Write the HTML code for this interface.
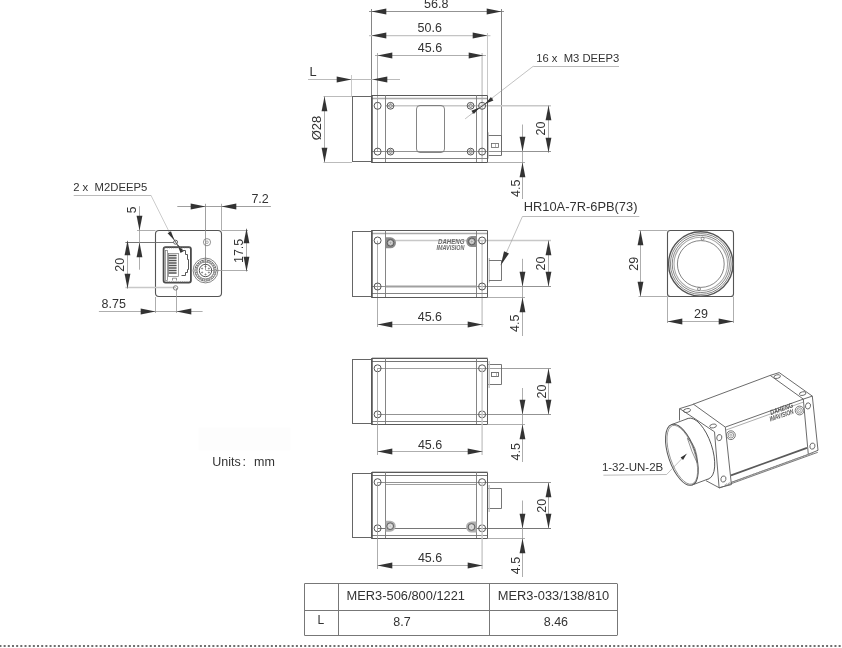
<!DOCTYPE html>
<html><head><meta charset="utf-8"><style>
html,body{margin:0;padding:0;background:#fff;width:842px;height:648px;overflow:hidden}
svg{display:block;filter:grayscale(1)}
text{font-family:"Liberation Sans",sans-serif}
</style></head><body>
<svg width="842" height="648" viewBox="0 0 842 648" font-family="Liberation Sans, sans-serif">
<rect width="842" height="648" fill="#fff"/>
<line x1="371.50" y1="9.00" x2="371.50" y2="95.50" stroke="#666" stroke-width="0.8" />
<line x1="377.50" y1="53.00" x2="377.50" y2="151.60" stroke="#999" stroke-width="0.8" />
<line x1="482.10" y1="53.00" x2="482.10" y2="162.00" stroke="#c8c8c8" stroke-width="1.4" />
<line x1="487.50" y1="33.00" x2="487.50" y2="95.00" stroke="#c8c8c8" stroke-width="1.0" />
<line x1="501.50" y1="9.00" x2="501.50" y2="155.00" stroke="#777" stroke-width="0.9" />
<line x1="385.70" y1="105.80" x2="551.00" y2="105.80" stroke="#c8c8c8" stroke-width="1.4" />
<line x1="372.00" y1="151.50" x2="551.00" y2="151.50" stroke="#777" stroke-width="0.8" />
<line x1="488.00" y1="162.50" x2="525.00" y2="162.50" stroke="#999" stroke-width="0.8" />
<rect x="352.50" y="96.50" width="19.00" height="65.00" rx="0" stroke="#666" stroke-width="1.0" fill="none"/>
<line x1="372.00" y1="98.50" x2="487.70" y2="98.50" stroke="#aaa" stroke-width="1.4" />
<line x1="372.00" y1="158.50" x2="487.70" y2="158.50" stroke="#777" stroke-width="0.9" />
<polyline points="371.50,95.50 487.50,95.50 487.50,162.50 371.50,162.50" stroke="#5a5a5a" stroke-width="1.0" fill="none" stroke-linejoin="miter"/>
<line x1="372.00" y1="95.00" x2="372.00" y2="163.00" stroke="#555" stroke-width="1.5" />
<line x1="385.50" y1="95.00" x2="385.50" y2="162.00" stroke="#777" stroke-width="0.9" />
<line x1="476.50" y1="95.00" x2="476.50" y2="162.00" stroke="#777" stroke-width="0.9" />
<circle cx="377.60" cy="105.80" r="3.50" stroke="#555" stroke-width="1.0" fill="none"/>
<circle cx="377.60" cy="151.60" r="3.50" stroke="#555" stroke-width="1.0" fill="none"/>
<circle cx="482.10" cy="105.80" r="3.50" stroke="#555" stroke-width="1.0" fill="none"/>
<circle cx="482.10" cy="151.60" r="3.50" stroke="#555" stroke-width="1.0" fill="none"/>
<circle cx="390.50" cy="105.80" r="3.40" stroke="#555" stroke-width="1.0" fill="none"/>
<circle cx="390.50" cy="105.80" r="1.70" stroke="#777" stroke-width="0.7" fill="none"/>
<path d="M387.95,105.80 h1.53 M391.52,105.80 h1.53 M390.50,103.25 v1.53 M390.50,106.82 v1.53" stroke="#777" stroke-width="0.7"/>
<circle cx="390.50" cy="151.60" r="3.40" stroke="#555" stroke-width="1.0" fill="none"/>
<circle cx="390.50" cy="151.60" r="1.70" stroke="#777" stroke-width="0.7" fill="none"/>
<path d="M387.95,151.60 h1.53 M391.52,151.60 h1.53 M390.50,149.05 v1.53 M390.50,152.62 v1.53" stroke="#777" stroke-width="0.7"/>
<circle cx="470.60" cy="105.80" r="3.40" stroke="#555" stroke-width="1.0" fill="none"/>
<circle cx="470.60" cy="105.80" r="1.70" stroke="#777" stroke-width="0.7" fill="none"/>
<path d="M468.05,105.80 h1.53 M471.62,105.80 h1.53 M470.60,103.25 v1.53 M470.60,106.82 v1.53" stroke="#777" stroke-width="0.7"/>
<circle cx="470.60" cy="151.60" r="3.40" stroke="#555" stroke-width="1.0" fill="none"/>
<circle cx="470.60" cy="151.60" r="1.70" stroke="#777" stroke-width="0.7" fill="none"/>
<path d="M468.05,151.60 h1.53 M471.62,151.60 h1.53 M470.60,149.05 v1.53 M470.60,152.62 v1.53" stroke="#777" stroke-width="0.7"/>
<rect x="416.50" y="105.50" width="28.00" height="47.00" rx="3.5" stroke="#777" stroke-width="0.9" fill="none"/>
<polyline points="487.50,135.50 501.50,135.50 501.50,155.50 487.50,155.50" stroke="#666" stroke-width="0.9" fill="none" stroke-linejoin="miter"/>
<rect x="491.50" y="143.50" width="7.00" height="4.00" rx="0" stroke="#666" stroke-width="0.8" fill="none"/>
<line x1="495.50" y1="143.50" x2="495.50" y2="147.60" stroke="#888" stroke-width="0.6" />
<line x1="488.50" y1="132.30" x2="488.50" y2="158.70" stroke="#bbb" stroke-width="0.8" />
<line x1="369.00" y1="11.50" x2="504.00" y2="11.50" stroke="#777" stroke-width="0.8" />
<polygon points="371.50,11.50 386.30,8.60 386.30,14.40" fill="#333"/>
<polygon points="501.50,11.50 486.70,14.40 486.70,8.60" fill="#333"/>
<line x1="369.00" y1="35.60" x2="490.40" y2="35.60" stroke="#c4c4c4" stroke-width="1.4" />
<polygon points="371.50,35.50 386.30,32.60 386.30,38.40" fill="#333"/>
<polygon points="487.50,35.50 472.70,38.40 472.70,32.60" fill="#333"/>
<line x1="375.00" y1="55.50" x2="486.00" y2="55.50" stroke="#999" stroke-width="0.8" />
<polygon points="377.50,55.50 392.30,52.60 392.30,58.40" fill="#333"/>
<polygon points="483.50,55.50 468.70,58.40 468.70,52.60" fill="#333"/>
<text x="424.10" y="8.10" font-size="12.5" fill="#333" text-anchor="start" >56.8</text>
<text x="417.60" y="32.10" font-size="12.5" fill="#333" text-anchor="start" >50.6</text>
<text x="417.80" y="51.90" font-size="12.5" fill="#333" text-anchor="start" >45.6</text>
<line x1="308.00" y1="79.50" x2="400.00" y2="79.50" stroke="#aaa" stroke-width="0.8" />
<polygon points="351.50,79.50 336.70,82.40 336.70,76.60" fill="#333"/>
<polygon points="372.50,79.50 387.30,76.60 387.30,82.40" fill="#333"/>
<line x1="351.50" y1="75.00" x2="351.50" y2="96.00" stroke="#bbb" stroke-width="0.8" />
<text x="309.50" y="76.00" font-size="12.8" fill="#333" text-anchor="start" >L</text>
<line x1="323.50" y1="96.50" x2="352.00" y2="96.50" stroke="#aaa" stroke-width="0.8" />
<line x1="323.50" y1="162.50" x2="352.00" y2="162.50" stroke="#aaa" stroke-width="0.8" />
<line x1="324.50" y1="96.30" x2="324.50" y2="162.00" stroke="#999" stroke-width="0.8" />
<polygon points="324.50,96.50 327.40,111.30 321.60,111.30" fill="#333"/>
<polygon points="324.50,162.50 321.60,147.70 327.40,147.70" fill="#333"/>
<text transform="translate(321.30,128.00) rotate(-90)" x="0" y="0" font-size="13" fill="#333" text-anchor="middle">Ø28</text>
<line x1="548.50" y1="105.50" x2="548.50" y2="152.80" stroke="#999" stroke-width="0.8" />
<polygon points="548.50,105.50 551.40,120.30 545.60,120.30" fill="#333"/>
<polygon points="548.50,152.50 545.60,137.70 551.40,137.70" fill="#333"/>
<text transform="translate(545.30,128.50) rotate(-90)" x="0" y="0" font-size="12.5" fill="#333" text-anchor="middle">20</text>
<line x1="522.50" y1="124.50" x2="522.50" y2="199.00" stroke="#999" stroke-width="0.8" />
<polygon points="522.50,151.50 519.60,136.70 525.40,136.70" fill="#333"/>
<polygon points="522.50,162.50 525.40,177.30 519.60,177.30" fill="#333"/>
<text transform="translate(519.50,188.20) rotate(-90)" x="0" y="0" font-size="12.5" fill="#333" text-anchor="middle">4.5</text>
<line x1="465.10" y1="118.90" x2="533.30" y2="66.20" stroke="#999" stroke-width="0.6" />
<line x1="533.30" y1="66.50" x2="619.00" y2="66.50" stroke="#aaa" stroke-width="0.8" />
<line x1="472.30" y1="113.20" x2="492.50" y2="98.50" stroke="#444" stroke-width="0.9" />
<polygon points="479.50,107.40 473.87,114.10 471.39,110.71" fill="#333"/>
<polygon points="485.30,103.80 490.93,97.10 493.41,100.49" fill="#333"/>
<text x="536.20" y="62.00" font-size="10.5" fill="#333" text-anchor="start" textLength="83.20" lengthAdjust="spacingAndGlyphs" >16 x&#160; M3 DEEP3</text>
<line x1="385.70" y1="240.50" x2="551.00" y2="240.50" stroke="#c8c8c8" stroke-width="1.4" />
<line x1="372.00" y1="286.50" x2="551.00" y2="286.50" stroke="#777" stroke-width="0.8" />
<line x1="488.00" y1="297.50" x2="525.00" y2="297.50" stroke="#999" stroke-width="0.8" />
<line x1="377.50" y1="240.70" x2="377.50" y2="327.00" stroke="#999" stroke-width="0.8" />
<line x1="482.10" y1="240.70" x2="482.10" y2="327.00" stroke="#c8c8c8" stroke-width="1.4" />
<rect x="352.50" y="231.50" width="19.00" height="65.00" rx="0" stroke="#666" stroke-width="1.0" fill="none"/>
<line x1="372.00" y1="233.50" x2="487.70" y2="233.50" stroke="#aaa" stroke-width="1.4" />
<line x1="372.00" y1="293.50" x2="487.70" y2="293.50" stroke="#777" stroke-width="0.9" />
<polyline points="371.50,230.50 487.50,230.50 487.50,297.50 371.50,297.50" stroke="#5a5a5a" stroke-width="1.0" fill="none" stroke-linejoin="miter"/>
<line x1="372.00" y1="230.00" x2="372.00" y2="298.00" stroke="#555" stroke-width="1.5" />
<line x1="385.50" y1="230.00" x2="385.50" y2="297.00" stroke="#777" stroke-width="0.9" />
<line x1="476.50" y1="230.00" x2="476.50" y2="297.00" stroke="#777" stroke-width="0.9" />
<circle cx="377.60" cy="240.50" r="3.50" stroke="#555" stroke-width="1.0" fill="none"/>
<circle cx="377.60" cy="286.50" r="3.50" stroke="#555" stroke-width="1.0" fill="none"/>
<circle cx="482.10" cy="240.50" r="3.50" stroke="#555" stroke-width="1.0" fill="none"/>
<circle cx="482.10" cy="286.50" r="3.50" stroke="#555" stroke-width="1.0" fill="none"/>
<line x1="385.70" y1="286.50" x2="476.50" y2="286.50" stroke="#a0a0a0" stroke-width="2" />
<path d="M385.7,237.3 H390.5 A5.5,5.5 0 0 1 390.5,248.3 H385.7 Z" fill="#8c8c8c"/>
<circle cx="390.50" cy="242.80" r="3.40" stroke="#555" stroke-width="0.9" fill="#a8a8a8"/>
<circle cx="390.50" cy="242.80" r="1.60" stroke="#eee" stroke-width="0.8" fill="none"/>
<path d="M476.5,236.0 H471.8 A5.5,5.5 0 0 0 471.8,247.0 H476.5 Z" fill="#8c8c8c"/>
<circle cx="471.80" cy="241.50" r="3.40" stroke="#555" stroke-width="0.9" fill="#a8a8a8"/>
<circle cx="471.80" cy="241.50" r="1.60" stroke="#eee" stroke-width="0.8" fill="none"/>
<text x="438.00" y="244.20" font-size="7.2" fill="#6a6a6a" text-anchor="start" textLength="26.50" lengthAdjust="spacingAndGlyphs" font-weight="bold" font-style="italic">DAHENG</text>
<text x="436.50" y="250.40" font-size="7.2" fill="#6a6a6a" text-anchor="start" textLength="28.00" lengthAdjust="spacingAndGlyphs" font-weight="bold" font-style="italic">IMAVISION</text>
<line x1="489.30" y1="258.00" x2="489.30" y2="282.50" stroke="#c4c4c4" stroke-width="1.4" />
<polyline points="489.00,260.50 501.50,260.50 501.50,280.50 489.00,280.50" stroke="#666" stroke-width="0.9" fill="none" stroke-linejoin="miter"/>
<line x1="377.40" y1="324.50" x2="483.50" y2="324.50" stroke="#999" stroke-width="0.8" />
<polygon points="377.50,324.50 392.30,321.60 392.30,327.40" fill="#333"/>
<polygon points="482.50,324.50 467.70,327.40 467.70,321.60" fill="#333"/>
<text x="417.70" y="321.00" font-size="12.5" fill="#333" text-anchor="start" >45.6</text>
<line x1="548.50" y1="240.30" x2="548.50" y2="286.60" stroke="#999" stroke-width="0.8" />
<polygon points="548.50,240.50 551.40,255.30 545.60,255.30" fill="#333"/>
<polygon points="548.50,286.50 545.60,271.70 551.40,271.70" fill="#333"/>
<text transform="translate(545.20,263.50) rotate(-90)" x="0" y="0" font-size="12.5" fill="#333" text-anchor="middle">20</text>
<line x1="522.50" y1="258.80" x2="522.50" y2="336.00" stroke="#999" stroke-width="0.8" />
<polygon points="522.50,286.50 519.60,271.70 525.40,271.70" fill="#333"/>
<polygon points="522.50,297.50 525.40,312.30 519.60,312.30" fill="#333"/>
<text transform="translate(519.30,323.30) rotate(-90)" x="0" y="0" font-size="12.5" fill="#333" text-anchor="middle">4.5</text>
<line x1="500.80" y1="265.20" x2="522.40" y2="216.50" stroke="#999" stroke-width="0.6" />
<polygon points="500.80,265.20 504.02,251.31 508.95,253.50" fill="#333"/>
<line x1="522.40" y1="216.50" x2="639.30" y2="216.50" stroke="#aaa" stroke-width="0.8" />
<text x="523.70" y="210.70" font-size="12.8" fill="#333" text-anchor="start" textLength="113.80" lengthAdjust="spacingAndGlyphs" >HR10A-7R-6PB(73)</text>
<line x1="377.40" y1="368.50" x2="551.00" y2="368.50" stroke="#888" stroke-width="0.8" />
<line x1="377.40" y1="414.50" x2="551.00" y2="414.50" stroke="#777" stroke-width="0.8" />
<line x1="488.00" y1="424.50" x2="525.00" y2="424.50" stroke="#999" stroke-width="0.8" />
<rect x="352.50" y="359.50" width="19.00" height="64.00" rx="0" stroke="#666" stroke-width="1.0" fill="none"/>
<line x1="372.00" y1="357.50" x2="487.70" y2="357.50" stroke="#c4c4c4" stroke-width="0.9" />
<line x1="372.00" y1="361.50" x2="487.70" y2="361.50" stroke="#666" stroke-width="0.9" />
<line x1="372.00" y1="421.50" x2="487.70" y2="421.50" stroke="#777" stroke-width="0.9" />
<polyline points="371.50,358.50 487.50,358.50 487.50,424.50 371.50,424.50" stroke="#5a5a5a" stroke-width="1.0" fill="none" stroke-linejoin="miter"/>
<line x1="372.00" y1="358.00" x2="372.00" y2="425.00" stroke="#555" stroke-width="1.5" />
<line x1="385.50" y1="358.00" x2="385.50" y2="424.00" stroke="#777" stroke-width="0.9" />
<line x1="476.50" y1="358.00" x2="476.50" y2="424.00" stroke="#777" stroke-width="0.9" />
<circle cx="377.60" cy="368.30" r="3.50" stroke="#555" stroke-width="1.0" fill="none"/>
<circle cx="377.60" cy="414.40" r="3.50" stroke="#555" stroke-width="1.0" fill="none"/>
<circle cx="482.10" cy="368.30" r="3.50" stroke="#555" stroke-width="1.0" fill="none"/>
<circle cx="482.10" cy="414.40" r="3.50" stroke="#555" stroke-width="1.0" fill="none"/>
<line x1="377.50" y1="368.30" x2="377.50" y2="455.00" stroke="#999" stroke-width="0.8" />
<line x1="482.10" y1="368.30" x2="482.10" y2="455.00" stroke="#c8c8c8" stroke-width="1.4" />
<polyline points="487.50,364.50 501.50,364.50 501.50,384.50 487.50,384.50" stroke="#666" stroke-width="0.9" fill="none" stroke-linejoin="miter"/>
<line x1="489.20" y1="361.00" x2="489.20" y2="388.00" stroke="#c4c4c4" stroke-width="1.4" />
<rect x="491.50" y="372.50" width="7.00" height="4.00" rx="0" stroke="#666" stroke-width="0.9" fill="none"/>
<line x1="496.50" y1="372.40" x2="496.50" y2="376.60" stroke="#888" stroke-width="0.6" />
<line x1="377.40" y1="451.50" x2="482.40" y2="451.50" stroke="#999" stroke-width="0.8" />
<polygon points="377.50,451.50 392.30,448.60 392.30,454.40" fill="#333"/>
<polygon points="482.50,451.50 467.70,454.40 467.70,448.60" fill="#333"/>
<text x="417.90" y="448.70" font-size="12.5" fill="#333" text-anchor="start" >45.6</text>
<line x1="548.50" y1="368.30" x2="548.50" y2="414.40" stroke="#999" stroke-width="0.8" />
<polygon points="548.50,368.50 551.40,383.30 545.60,383.30" fill="#333"/>
<polygon points="548.50,414.50 545.60,399.70 551.40,399.70" fill="#333"/>
<text transform="translate(545.50,391.50) rotate(-90)" x="0" y="0" font-size="12.5" fill="#333" text-anchor="middle">20</text>
<line x1="522.50" y1="388.00" x2="522.50" y2="462.00" stroke="#999" stroke-width="0.8" />
<polygon points="522.50,414.50 519.60,399.70 525.40,399.70" fill="#333"/>
<polygon points="522.50,424.50 525.40,439.30 519.60,439.30" fill="#333"/>
<text transform="translate(519.60,451.80) rotate(-90)" x="0" y="0" font-size="12.5" fill="#333" text-anchor="middle">4.5</text>
<line x1="385.70" y1="484.50" x2="476.50" y2="484.50" stroke="#888" stroke-width="0.8" />
<line x1="377.40" y1="482.50" x2="551.00" y2="482.50" stroke="#777" stroke-width="0.8" />
<line x1="377.40" y1="528.50" x2="551.00" y2="528.50" stroke="#666" stroke-width="0.9" />
<line x1="488.00" y1="538.50" x2="525.00" y2="538.50" stroke="#999" stroke-width="0.8" />
<rect x="352.50" y="473.50" width="19.00" height="64.00" rx="0" stroke="#666" stroke-width="1.0" fill="none"/>
<line x1="372.00" y1="471.50" x2="487.70" y2="471.50" stroke="#c4c4c4" stroke-width="0.9" />
<line x1="372.00" y1="475.50" x2="487.70" y2="475.50" stroke="#666" stroke-width="0.9" />
<line x1="372.00" y1="535.50" x2="487.70" y2="535.50" stroke="#777" stroke-width="0.9" />
<polyline points="371.50,472.50 487.50,472.50 487.50,538.50 371.50,538.50" stroke="#5a5a5a" stroke-width="1.0" fill="none" stroke-linejoin="miter"/>
<line x1="372.00" y1="472.00" x2="372.00" y2="539.00" stroke="#555" stroke-width="1.5" />
<line x1="385.50" y1="472.00" x2="385.50" y2="538.00" stroke="#777" stroke-width="0.9" />
<line x1="476.50" y1="472.00" x2="476.50" y2="538.00" stroke="#777" stroke-width="0.9" />
<circle cx="377.60" cy="482.20" r="3.50" stroke="#555" stroke-width="1.0" fill="none"/>
<circle cx="377.60" cy="528.30" r="3.50" stroke="#555" stroke-width="1.0" fill="none"/>
<circle cx="482.10" cy="482.20" r="3.50" stroke="#555" stroke-width="1.0" fill="none"/>
<circle cx="482.10" cy="528.30" r="3.50" stroke="#555" stroke-width="1.0" fill="none"/>
<line x1="377.50" y1="482.20" x2="377.50" y2="569.00" stroke="#999" stroke-width="0.8" />
<line x1="482.10" y1="482.20" x2="482.10" y2="569.00" stroke="#c8c8c8" stroke-width="1.4" />
<path d="M385.7,520.7 H390.2 A5.5,5.5 0 0 1 390.2,531.7 H385.7 Z" fill="#b0b0b0"/>
<circle cx="390.20" cy="526.20" r="3.40" stroke="#555" stroke-width="0.9" fill="#c8c8c8"/>
<circle cx="390.20" cy="526.20" r="1.60" stroke="#eee" stroke-width="0.8" fill="none"/>
<path d="M476.5,521.5 H471.5 A5.5,5.5 0 0 0 471.5,532.5 H476.5 Z" fill="#b0b0b0"/>
<circle cx="471.50" cy="527.00" r="3.40" stroke="#555" stroke-width="0.9" fill="#c8c8c8"/>
<circle cx="471.50" cy="527.00" r="1.60" stroke="#eee" stroke-width="0.8" fill="none"/>
<polyline points="487.50,488.50 501.50,488.50 501.50,508.50 487.50,508.50" stroke="#666" stroke-width="0.9" fill="none" stroke-linejoin="miter"/>
<line x1="489.20" y1="485.00" x2="489.20" y2="512.00" stroke="#c4c4c4" stroke-width="1.4" />
<line x1="377.40" y1="565.50" x2="482.40" y2="565.50" stroke="#999" stroke-width="0.8" />
<polygon points="377.50,565.50 392.30,562.60 392.30,568.40" fill="#333"/>
<polygon points="482.50,565.50 467.70,568.40 467.70,562.60" fill="#333"/>
<text x="417.90" y="562.40" font-size="12.5" fill="#333" text-anchor="start" >45.6</text>
<line x1="548.50" y1="482.20" x2="548.50" y2="528.30" stroke="#999" stroke-width="0.8" />
<polygon points="548.50,482.50 551.40,497.30 545.60,497.30" fill="#333"/>
<polygon points="548.50,528.50 545.60,513.70 551.40,513.70" fill="#333"/>
<text transform="translate(545.50,505.70) rotate(-90)" x="0" y="0" font-size="12.5" fill="#333" text-anchor="middle">20</text>
<line x1="522.50" y1="500.50" x2="522.50" y2="577.00" stroke="#999" stroke-width="0.8" />
<polygon points="522.50,528.50 519.60,513.70 525.40,513.70" fill="#333"/>
<polygon points="522.50,538.50 525.40,553.30 519.60,553.30" fill="#333"/>
<text transform="translate(519.60,565.50) rotate(-90)" x="0" y="0" font-size="12.5" fill="#333" text-anchor="middle">4.5</text>
<line x1="304.50" y1="583.50" x2="617.10" y2="583.50" stroke="#777" stroke-width="1" />
<line x1="304.50" y1="610.50" x2="617.10" y2="610.50" stroke="#777" stroke-width="1" />
<line x1="304.50" y1="635.50" x2="617.10" y2="635.50" stroke="#777" stroke-width="1" />
<line x1="304.50" y1="583.60" x2="304.50" y2="635.40" stroke="#777" stroke-width="1" />
<line x1="338.50" y1="583.60" x2="338.50" y2="635.40" stroke="#777" stroke-width="1" />
<line x1="489.50" y1="583.60" x2="489.50" y2="635.40" stroke="#777" stroke-width="1" />
<line x1="617.50" y1="583.60" x2="617.50" y2="635.40" stroke="#777" stroke-width="1" />
<text x="346.60" y="600.00" font-size="12" fill="#333" text-anchor="start" textLength="118.40" lengthAdjust="spacingAndGlyphs" >MER3-506/800/1221</text>
<text x="497.80" y="600.00" font-size="12" fill="#333" text-anchor="start" textLength="111.40" lengthAdjust="spacingAndGlyphs" >MER3-033/138/810</text>
<text x="317.40" y="624.00" font-size="12" fill="#333" text-anchor="start" >L</text>
<text x="402.00" y="625.90" font-size="12.5" fill="#333" text-anchor="middle" >8.7</text>
<text x="555.90" y="625.90" font-size="12.5" fill="#333" text-anchor="middle" >8.46</text>
<line x1="-0.55" y1="646" x2="843" y2="646" stroke="#6e6e6e" stroke-width="2" stroke-dasharray="2 2.175"/>
<rect x="198.50" y="427.50" width="92.00" height="23.00" rx="0" stroke="none" stroke-width="0" fill="#fdfdfd"/>
<text x="212.20" y="466.00" font-size="12.5" fill="#333" text-anchor="start" >Units</text>
<text x="242.40" y="466.00" font-size="12.5" fill="#333" text-anchor="start" >:</text>
<text x="254.00" y="466.00" font-size="12.5" fill="#333" text-anchor="start" >mm</text>
<text x="73.20" y="191.30" font-size="10.5" fill="#333" text-anchor="start" textLength="74.20" lengthAdjust="spacingAndGlyphs" >2 x&#160; M2DEEP5</text>
<line x1="73.70" y1="195.50" x2="150.90" y2="195.50" stroke="#aaa" stroke-width="0.8" />
<line x1="150.90" y1="195.20" x2="169.00" y2="231.50" stroke="#aaa" stroke-width="0.6" />
<line x1="169.00" y1="231.50" x2="181.50" y2="251.50" stroke="#444" stroke-width="0.9" />
<polygon points="174.30,240.30 167.58,233.30 170.97,231.18" fill="#333"/>
<polygon points="177.20,244.00 183.92,251.00 180.53,253.12" fill="#333"/>
<rect x="155.50" y="230.50" width="66.00" height="66.00" rx="3.5" stroke="#555" stroke-width="1.1" fill="none"/>
<line x1="137.00" y1="230.50" x2="155.50" y2="230.50" stroke="#999" stroke-width="0.8" />
<line x1="221.80" y1="230.50" x2="248.00" y2="230.50" stroke="#999" stroke-width="0.8" />
<line x1="125.40" y1="242.50" x2="173.60" y2="242.50" stroke="#666" stroke-width="0.9" />
<line x1="125.40" y1="287.50" x2="176.00" y2="287.50" stroke="#c8c8c8" stroke-width="1.3" />
<line x1="205.50" y1="203.80" x2="205.50" y2="270.00" stroke="#888" stroke-width="0.8" />
<line x1="221.50" y1="203.80" x2="221.50" y2="230.50" stroke="#999" stroke-width="0.8" />
<line x1="205.50" y1="270.50" x2="248.00" y2="270.50" stroke="#999" stroke-width="0.8" />
<line x1="155.50" y1="297.00" x2="155.50" y2="313.00" stroke="#999" stroke-width="0.8" />
<line x1="176.50" y1="288.00" x2="176.50" y2="313.00" stroke="#999" stroke-width="0.8" />
<line x1="177.30" y1="206.50" x2="270.90" y2="206.50" stroke="#888" stroke-width="0.8" />
<polygon points="205.50,206.50 190.70,209.40 190.70,203.60" fill="#333"/>
<polygon points="221.50,206.50 236.30,203.60 236.30,209.40" fill="#333"/>
<text x="251.40" y="203.00" font-size="12.5" fill="#333" text-anchor="start" >7.2</text>
<line x1="139.50" y1="206.20" x2="139.50" y2="269.70" stroke="#999" stroke-width="0.8" />
<polygon points="139.50,230.50 136.60,215.70 142.40,215.70" fill="#333"/>
<polygon points="139.50,242.50 142.40,257.30 136.60,257.30" fill="#333"/>
<text transform="translate(135.80,210.00) rotate(-90)" x="0" y="0" font-size="12" fill="#333" text-anchor="middle">5</text>
<line x1="127.50" y1="240.90" x2="127.50" y2="288.70" stroke="#999" stroke-width="0.8" />
<polygon points="127.50,240.50 130.40,255.30 124.60,255.30" fill="#333"/>
<polygon points="127.50,288.50 124.60,273.70 130.40,273.70" fill="#333"/>
<text transform="translate(124.30,264.70) rotate(-90)" x="0" y="0" font-size="12.5" fill="#333" text-anchor="middle">20</text>
<line x1="246.50" y1="228.70" x2="246.50" y2="271.50" stroke="#999" stroke-width="0.8" />
<polygon points="246.50,228.50 249.40,243.30 243.60,243.30" fill="#333"/>
<polygon points="246.50,271.50 243.60,256.70 249.40,256.70" fill="#333"/>
<text transform="translate(242.60,250.90) rotate(-90)" x="0" y="0" font-size="12.5" fill="#333" text-anchor="middle">17.5</text>
<line x1="98.90" y1="311.50" x2="202.60" y2="311.50" stroke="#999" stroke-width="0.8" />
<polygon points="155.50,311.50 140.70,314.40 140.70,308.60" fill="#333"/>
<polygon points="176.50,311.50 191.30,308.60 191.30,314.40" fill="#333"/>
<text x="101.50" y="307.70" font-size="12.5" fill="#333" text-anchor="start" >8.75</text>
<rect x="163.60" y="247.10" width="27.30" height="35.50" rx="2" stroke="#4a4a4a" stroke-width="1.8" fill="none"/>
<path d="M164.5,248 h25.5 M164.5,281.7 h25.5" stroke="#888" stroke-width="0.8" stroke-dasharray="1 1.2"/>
<rect x="165.50" y="250.50" width="2.00" height="30.00" rx="0" stroke="#777" stroke-width="0.7" fill="none"/>
<rect x="168.50" y="253.50" width="10.00" height="23.00" rx="0" stroke="#777" stroke-width="0.7" fill="none"/>
<path d="M168.6,255.4 h8 M168.6,257.9 h8 M168.6,260.4 h8 M168.6,262.9 h8 M168.6,265.4 h8 M168.6,267.9 h8 M168.6,270.4 h8 M168.6,272.9 h8" stroke="#555" stroke-width="1.5"/>
<polyline points="181.50,250.50 185.50,250.50 185.50,254.50 187.50,254.50 187.50,259.50 188.50,259.50 188.50,269.50 187.50,269.50 187.50,272.50 185.50,272.50 185.50,275.50 181.50,275.50" stroke="#555" stroke-width="1.0" fill="none" stroke-linejoin="miter"/>
<polyline points="172.50,280.50 172.50,278.20 176.50,278.20 176.50,280.50" stroke="#666" stroke-width="0.7" fill="none" stroke-linejoin="miter"/>
<circle cx="205.50" cy="270.50" r="12.40" stroke="#666" stroke-width="0.8" fill="none"/>
<circle cx="205.50" cy="270.50" r="10.60" stroke="#555" stroke-width="0.9" fill="none"/>
<circle cx="205.50" cy="270.50" r="9.60" stroke="#888" stroke-width="1.3" fill="none"/>
<circle cx="205.5" cy="270.5" r="9.6" stroke="#fff" stroke-width="1.4" fill="none" stroke-dasharray="0.8 1.6"/>
<circle cx="205.50" cy="270.50" r="8.50" stroke="#666" stroke-width="0.8" fill="none"/>
<circle cx="205.50" cy="270.50" r="6.20" stroke="#555" stroke-width="1.0" fill="none"/>
<circle cx="208.88" cy="272.45" r="0.55" stroke="#555" stroke-width="0.7" fill="none"/>
<circle cx="205.50" cy="274.40" r="0.55" stroke="#555" stroke-width="0.7" fill="none"/>
<circle cx="202.12" cy="272.45" r="0.55" stroke="#555" stroke-width="0.7" fill="none"/>
<circle cx="202.12" cy="268.55" r="0.55" stroke="#555" stroke-width="0.7" fill="none"/>
<circle cx="205.50" cy="266.60" r="0.55" stroke="#555" stroke-width="0.7" fill="none"/>
<circle cx="208.88" cy="268.55" r="0.55" stroke="#555" stroke-width="0.7" fill="none"/>
<circle cx="207.00" cy="242.20" r="3.60" stroke="#777" stroke-width="0.8" fill="none"/>
<circle cx="207.00" cy="242.20" r="1.30" stroke="#777" stroke-width="0.6" fill="none"/>
<circle cx="175.60" cy="242.20" r="2.00" stroke="#555" stroke-width="0.9" fill="none"/>
<circle cx="175.60" cy="287.90" r="2.20" stroke="#666" stroke-width="0.8" fill="none"/>
<rect x="667.50" y="230.50" width="66.00" height="66.00" rx="2.8" stroke="#555" stroke-width="1.1" fill="none"/>
<circle cx="700.80" cy="264.00" r="32.20" stroke="#555" stroke-width="1.4" fill="none"/>
<circle cx="700.80" cy="264.00" r="30.40" stroke="#666" stroke-width="0.8" fill="none"/>
<circle cx="700.80" cy="264.00" r="28.60" stroke="#666" stroke-width="0.8" fill="none"/>
<circle cx="700.80" cy="264.00" r="26.80" stroke="#aaa" stroke-width="1.1" fill="none"/>
<circle cx="700.80" cy="264.00" r="23.40" stroke="#666" stroke-width="0.8" fill="none"/>
<circle cx="702.60" cy="238.70" r="1.50" stroke="#666" stroke-width="0.7" fill="none"/>
<circle cx="699.00" cy="289.00" r="1.50" stroke="#666" stroke-width="0.7" fill="none"/>
<line x1="638.50" y1="230.50" x2="667.40" y2="230.50" stroke="#999" stroke-width="0.8" />
<line x1="638.50" y1="296.50" x2="667.40" y2="296.50" stroke="#999" stroke-width="0.8" />
<line x1="640.50" y1="230.40" x2="640.50" y2="296.60" stroke="#999" stroke-width="0.8" />
<polygon points="640.50,230.50 643.40,245.30 637.60,245.30" fill="#333"/>
<polygon points="640.50,296.50 637.60,281.70 643.40,281.70" fill="#333"/>
<text transform="translate(638.00,263.70) rotate(-90)" x="0" y="0" font-size="12.5" fill="#333" text-anchor="middle">29</text>
<line x1="667.50" y1="296.60" x2="667.50" y2="323.00" stroke="#999" stroke-width="0.8" />
<line x1="733.50" y1="296.60" x2="733.50" y2="323.00" stroke="#999" stroke-width="0.8" />
<line x1="667.40" y1="321.50" x2="733.60" y2="321.50" stroke="#999" stroke-width="0.8" />
<polygon points="667.50,321.50 682.30,318.60 682.30,324.40" fill="#333"/>
<polygon points="733.50,321.50 718.70,324.40 718.70,318.60" fill="#333"/>
<text x="694.00" y="317.80" font-size="12.5" fill="#333" text-anchor="start" >29</text>
<polyline points="692.80,404.40 770.20,375.40" stroke="#5a5a5a" stroke-width="0.9" fill="none" stroke-linejoin="miter"/>
<polyline points="770.20,375.40 779.20,372.60 812.30,396.10 818.00,450.30 808.30,454.30 803.30,399.10 770.20,375.40" stroke="#5a5a5a" stroke-width="0.9" fill="none" stroke-linejoin="miter"/>
<line x1="803.30" y1="399.10" x2="812.30" y2="396.10" stroke="#5a5a5a" stroke-width="0.9" />
<polyline points="725.30,427.10 803.30,399.10" stroke="#5a5a5a" stroke-width="0.9" fill="none" stroke-linejoin="miter"/>
<polyline points="726.00,430.00 803.60,402.00" stroke="#888" stroke-width="0.7" fill="none" stroke-linejoin="miter"/>
<polyline points="731.20,482.40 808.20,454.40" stroke="#5a5a5a" stroke-width="0.8" fill="none" stroke-linejoin="miter"/>
<polyline points="719.10,488.10 817.80,452.30" stroke="#5a5a5a" stroke-width="0.8" fill="none" stroke-linejoin="miter"/>
<line x1="725" y1="484.9" x2="813" y2="453" stroke="#8a8a8a" stroke-width="1.6" stroke-dasharray="0.7 0.9"/>
<polyline points="731.00,475.40 807.00,447.90" stroke="#5a5a5a" stroke-width="1.7" fill="none" stroke-linejoin="miter"/>
<polyline points="679.70,408.60 693.60,404.30 725.30,427.10 731.40,484.60 719.10,487.70 714.50,431.80 679.70,408.60" stroke="#5a5a5a" stroke-width="0.9" fill="none" stroke-linejoin="miter"/>
<line x1="679.50" y1="408.60" x2="679.50" y2="420.50" stroke="#5a5a5a" stroke-width="0.9" />
<line x1="706.00" y1="480.70" x2="719.10" y2="487.70" stroke="#5a5a5a" stroke-width="0.9" />
<ellipse transform="translate(698.37,448.62) rotate(-18.70)" rx="13.5" ry="31.9" stroke="#555" stroke-width="0.9" fill="#fff"/>
<polygon points="692.30,484.95 708.78,478.78 687.97,418.47 671.50,424.65" fill="#fff"/>
<line x1="692.30" y1="484.95" x2="708.78" y2="478.78" stroke="#555" stroke-width="0.9" />
<line x1="671.50" y1="424.65" x2="687.97" y2="418.47" stroke="#555" stroke-width="0.9" />
<ellipse transform="translate(681.90,454.80) rotate(-18.70)" rx="13.5" ry="31.9" stroke="#555" stroke-width="1" fill="#fff"/>
<ellipse transform="translate(682.30,454.80) rotate(-18.70)" rx="12.4" ry="30.799999999999997" stroke="#777" stroke-width="0.7" fill="none"/>
<path d="M687.4,438.3 Q697.5,446 697.3,463.2 Q691.5,452 687.4,438.3" stroke="#666" stroke-width="0.7" fill="none"/>
<ellipse transform="translate(687,410.5) rotate(-12)" rx="3.6" ry="1.9" stroke="#555" stroke-width="0.8" fill="none"/>
<ellipse transform="translate(713.1,426) rotate(-12)" rx="3.4" ry="1.9" stroke="#555" stroke-width="0.8" fill="none"/>
<ellipse transform="translate(777.2,376.6) rotate(-12)" rx="3.3" ry="1.8" stroke="#555" stroke-width="0.8" fill="none"/>
<ellipse transform="translate(802.7,393.6) rotate(-12)" rx="3.3" ry="1.8" stroke="#555" stroke-width="0.8" fill="none"/>
<ellipse transform="translate(719.3,437.6) rotate(15)" rx="2.5" ry="3.1" stroke="#555" stroke-width="0.8" fill="none"/>
<ellipse transform="translate(723.4,479) rotate(15)" rx="2.5" ry="3.1" stroke="#555" stroke-width="0.8" fill="none"/>
<ellipse transform="translate(808,405.9) rotate(15)" rx="2.5" ry="3.1" stroke="#555" stroke-width="0.8" fill="none"/>
<ellipse transform="translate(812.4,446.1) rotate(15)" rx="2.5" ry="3.1" stroke="#555" stroke-width="0.8" fill="none"/>
<circle cx="730.90" cy="435.20" r="4.40" stroke="#666" stroke-width="0.9" fill="none"/>
<circle cx="730.90" cy="435.20" r="2.80" stroke="#777" stroke-width="0.8" fill="none"/>
<circle cx="730.90" cy="435.20" r="1.10" stroke="#888" stroke-width="0.7" fill="none"/>
<circle cx="799.60" cy="410.50" r="4.40" stroke="#666" stroke-width="0.9" fill="none"/>
<circle cx="799.60" cy="410.50" r="2.80" stroke="#777" stroke-width="0.8" fill="none"/>
<circle cx="799.60" cy="410.50" r="1.10" stroke="#888" stroke-width="0.7" fill="none"/>
<text x="771.00" y="415.00" font-size="7" fill="#555" text-anchor="start" textLength="24.00" lengthAdjust="spacingAndGlyphs" font-weight="bold" font-style="italic" transform="rotate(-19 771 415)">DAHENG</text>
<text x="770.50" y="421.50" font-size="7" fill="#555" text-anchor="start" textLength="25.00" lengthAdjust="spacingAndGlyphs" font-weight="bold" font-style="italic" transform="rotate(-19 770.5 421.5)">IMAVISION</text>
<line x1="603.40" y1="475.20" x2="666.60" y2="474.50" stroke="#aaa" stroke-width="0.8" />
<line x1="666.60" y1="474.50" x2="686.70" y2="453.70" stroke="#999" stroke-width="0.6" />
<polygon points="686.70,453.70 683.04,459.90 680.60,457.53" fill="#333"/>
<text x="601.90" y="470.50" font-size="11.5" fill="#333" text-anchor="start" >1-32-UN-2B</text>
</svg>
</body></html>
